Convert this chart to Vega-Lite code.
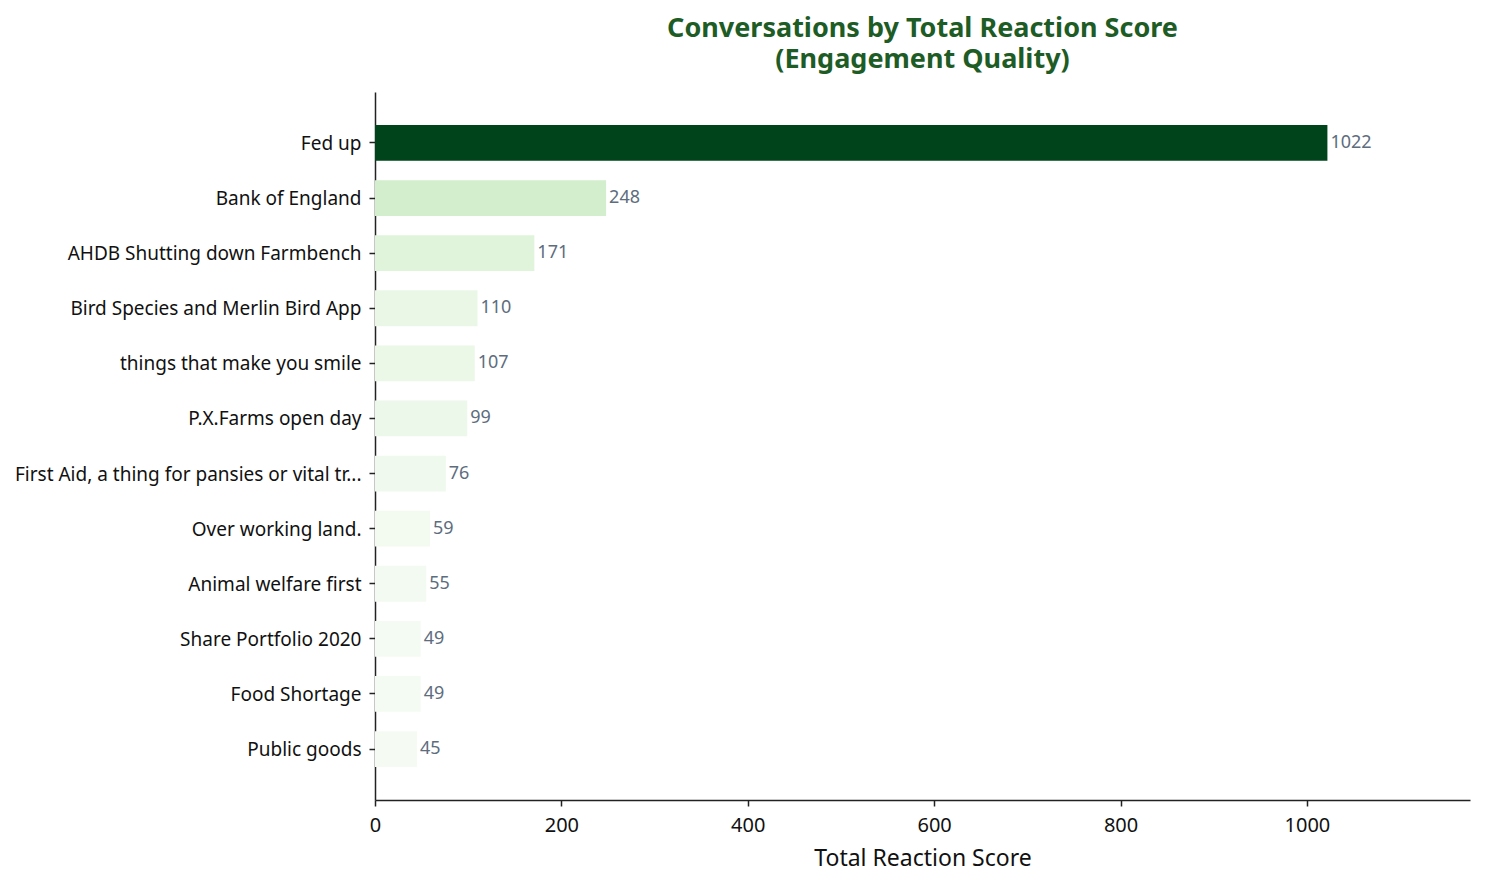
{
  "$schema": "https://vega.github.io/schema/vega-lite/v6.json",
  "autosize": {"type": "none"},
  "padding": {"left": 375, "top": 92, "right": 15, "bottom": 85},
  "width": 1095,
  "height": 708,
  "background": "white",
  "title": {
    "text": ["Conversations by Total Reaction Score", "(Engagement Quality)"],
    "font": "Noto Sans",
    "fontSize": 27,
    "fontWeight": "bold",
    "color": "#1e5c26",
    "lineHeight": 31,
    "anchor": "middle",
    "offset": 18
  },
  "data": {
    "values": [
      {"topic": "Fed up", "score": 1022},
      {"topic": "Bank of England", "score": 248},
      {"topic": "AHDB Shutting down Farmbench", "score": 171},
      {"topic": "Bird Species and Merlin Bird App", "score": 110},
      {"topic": "things that make you smile", "score": 107},
      {"topic": "P.X.Farms open day", "score": 99},
      {"topic": "First Aid, a thing for pansies or vital tr...", "score": 76},
      {"topic": "Over working land.", "score": 59},
      {"topic": "Animal welfare first", "score": 55},
      {"topic": "Share Portfolio 2020", "score": 49},
      {"topic": "Food Shortage", "score": 49},
      {"topic": "Public goods", "score": 45}
    ]
  },
  "encoding": {
    "y": {
      "field": "topic",
      "type": "nominal",
      "sort": null,
      "scale": {"paddingInner": 0.35, "paddingOuter": 0.6},
      "axis": {
        "title": null,
        "labelFont": "Noto Sans",
        "labelFontSize": 19,
        "labelColor": "#111111",
        "labelLimit": 400,
        "labelPadding": 8,
        "labelOffset": 1,
        "tickSize": 6,
        "tickColor": "#222222",
        "tickWidth": 1.5,
        "domainColor": "#222222",
        "domainWidth": 1.5,
        "grid": false
      }
    },
    "x": {
      "field": "score",
      "type": "quantitative",
      "scale": {"domain": [0, 1175], "nice": false},
      "axis": {
        "title": "Total Reaction Score",
        "titleFont": "Noto Sans",
        "titleFontSize": 23,
        "titleFontWeight": "normal",
        "titleColor": "#111111",
        "titlePadding": 12,
        "values": [0, 200, 400, 600, 800, 1000],
        "format": "d",
        "labelFont": "Noto Sans",
        "labelFontSize": 20,
        "labelColor": "#111111",
        "labelPadding": 9,
        "labelFlush": false,
        "tickSize": 6,
        "tickColor": "#222222",
        "tickWidth": 1.5,
        "domainColor": "#222222",
        "domainWidth": 1.5,
        "grid": false
      }
    }
  },
  "layer": [
    {
      "mark": {"type": "bar"},
      "encoding": {
        "color": {
          "field": "score",
          "type": "quantitative",
          "scale": {"domain": [45, 248, 1022], "range": ["#f5fbf3", "#d3eecd", "#00441b"]},
          "legend": null
        }
      }
    },
    {
      "mark": {
        "type": "text",
        "align": "left",
        "baseline": "middle",
        "dx": 3,
        "font": "Noto Sans",
        "fontSize": 18,
        "color": "#5d6d7e"
      },
      "encoding": {
        "text": {"field": "score", "type": "quantitative"}
      }
    }
  ],
  "config": {
    "view": {"stroke": null}
  }
}
